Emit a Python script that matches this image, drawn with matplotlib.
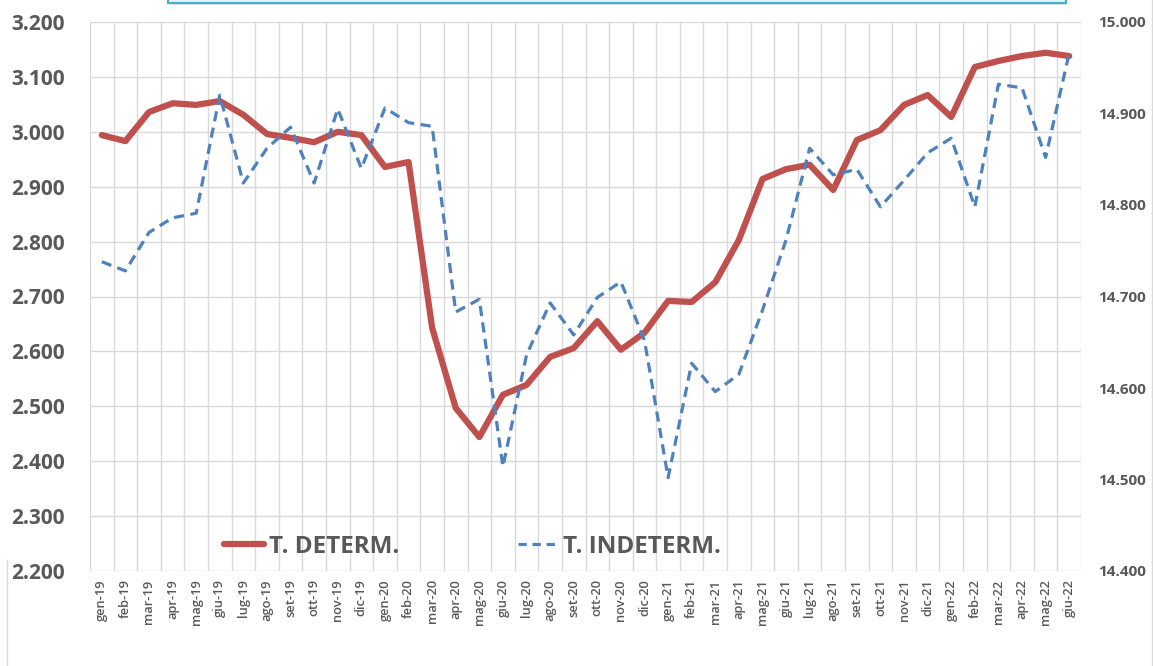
import matplotlib
matplotlib.use("Agg")
import matplotlib.pyplot as plt
from matplotlib.patches import Rectangle
from matplotlib.lines import Line2D

plt.rcParams['font.family'] = ['Open Sans', 'DejaVu Sans']

months = ["gen-19", "feb-19", "mar-19", "apr-19", "mag-19", "giu-19", "lug-19", "ago-19",
          "set-19", "ott-19", "nov-19", "dic-19", "gen-20", "feb-20", "mar-20", "apr-20",
          "mag-20", "giu-20", "lug-20", "ago-20", "set-20", "ott-20", "nov-20", "dic-20",
          "gen-21", "feb-21", "mar-21", "apr-21", "mag-21", "giu-21", "lug-21", "ago-21",
          "set-21", "ott-21", "nov-21", "dic-21", "gen-22", "feb-22", "mar-22", "apr-22",
          "mag-22", "giu-22"]

t_determ = [2.994, 2.983, 3.036, 3.052, 3.049, 3.056, 3.031, 2.996,
            2.989, 2.981, 3.000, 2.994, 2.936, 2.945, 2.643, 2.497,
            2.444, 2.521, 2.539, 2.590, 2.606, 2.655, 2.603, 2.634,
            2.692, 2.690, 2.726, 2.803, 2.914, 2.932, 2.940, 2.894,
            2.985, 3.003, 3.049, 3.067, 3.027, 3.118, 3.129, 3.138,
            3.144, 3.138]

t_indeterm = [14.738, 14.728, 14.770, 14.786, 14.791, 14.920, 14.824, 14.862,
              14.885, 14.824, 14.905, 14.840, 14.906, 14.890, 14.886, 14.683,
              14.697, 14.514, 14.636, 14.693, 14.658, 14.699, 14.716, 14.652,
              14.502, 14.627, 14.596, 14.615, 14.685, 14.762, 14.862, 14.833,
              14.839, 14.798, 14.827, 14.857, 14.873, 14.798, 14.932, 14.928,
              14.852, 14.966]

left_ticks = [2.2, 2.3, 2.4, 2.5, 2.6, 2.7, 2.8, 2.9, 3.0, 3.1, 3.2]
left_labels = ["2.200", "2.300", "2.400", "2.500", "2.600", "2.700", "2.800", "2.900",
               "3.000", "3.100", "3.200"]
right_ticks = [14.4, 14.5, 14.6, 14.7, 14.8, 14.9, 15.0]
right_labels = ["14.400", "14.500", "14.600", "14.700", "14.800", "14.900", "15.000"]

RED = "#C0504D"
BLUE = "#4F81BD"
TXT = "#595959"
GRID = "#D9D9D9"

W, H = 1153, 666
fig = plt.figure(figsize=(W / 100, H / 100), dpi=100)
fig.patch.set_facecolor("white")

ax = fig.add_axes([90 / W, 1 - 571 / H, (1081 - 90) / W, (571 - 22) / H])
ax2 = ax.twinx()

x = list(range(len(months)))

# gridlines
for i in range(len(months) + 1):
    ax.axvline(i - 0.5, color=GRID, lw=1.0, zorder=0)
for v in left_ticks:
    ax.axhline(v, color=GRID, lw=1.0, zorder=0)

ax.plot(x, t_determ, color=RED, lw=4.5, solid_capstyle="round",
        solid_joinstyle="round", zorder=3)
ax2.plot(x, t_indeterm, color=BLUE, lw=2.3, dashes=(3.2, 2.0),
         dash_capstyle="butt", zorder=3)

ax.set_xlim(-0.5, len(months) - 0.5)
ax.set_ylim(2.2, 3.2)
ax2.set_ylim(14.4, 15.0)

ax.set_yticks(left_ticks)
ax.set_yticklabels(left_labels, fontsize=15, fontweight="bold", color=TXT)
ax2.set_yticks(right_ticks)
ax2.set_yticklabels(right_labels, fontsize=11, fontweight="bold", color=TXT)
ax.set_xticks(x)
ax.set_xticklabels(months, rotation=90, fontsize=9.3, fontweight="semibold", color=TXT)

ax.tick_params(axis="y", length=0, pad=18)
ax2.tick_params(axis="y", length=0, pad=12)
ax.tick_params(axis="x", length=0, pad=6)

for a in (ax, ax2):
    for s in a.spines.values():
        s.set_visible(False)
ax2.set_zorder(ax.get_zorder() + 1)
ax2.patch.set_visible(False)

# legend
handles = [Line2D([], [], color=RED, lw=4.5, solid_capstyle="round"),
           Line2D([], [], color=BLUE, lw=2.3, dashes=(2.6, 1.8))]
leg = fig.legend(handles, ["T. DETERM.", "T. INDETERM."], loc="center left",
                 bbox_to_anchor=(202 / W, 1 - 547 / H), ncol=2, frameon=False,
                 prop={"size": 17.5, "weight": "bold"}, handlelength=1.65,
                 handletextpad=0.2, columnspacing=4.9)
for t in leg.get_texts():
    t.set_color(TXT)

# partially visible title box at top
fig.patches.append(Rectangle((170 / W, 1 - 5 / H), (1067 - 170) / W, 20 / H,
                             transform=fig.transFigure, facecolor="#B0B0B0",
                             edgecolor="none", alpha=0.35, zorder=0))
fig.patches.append(Rectangle((168 / W, 1 - 3 / H), (1066 - 168) / W, 20 / H,
                             transform=fig.transFigure, facecolor="#E4F4F9",
                             edgecolor="#4BACC6", lw=1.5, zorder=1))

# side border lines of the chart area
fig.add_artist(Line2D([7 / W, 7 / W], [0, 1 - 560 / H], transform=fig.transFigure,
                      color=GRID, lw=1.0))
fig.add_artist(Line2D([1151.5 / W, 1151.5 / W], [0, 1], transform=fig.transFigure,
                      color=GRID, lw=1.0))

fig.savefig("out.png", dpi=100, facecolor="white")
